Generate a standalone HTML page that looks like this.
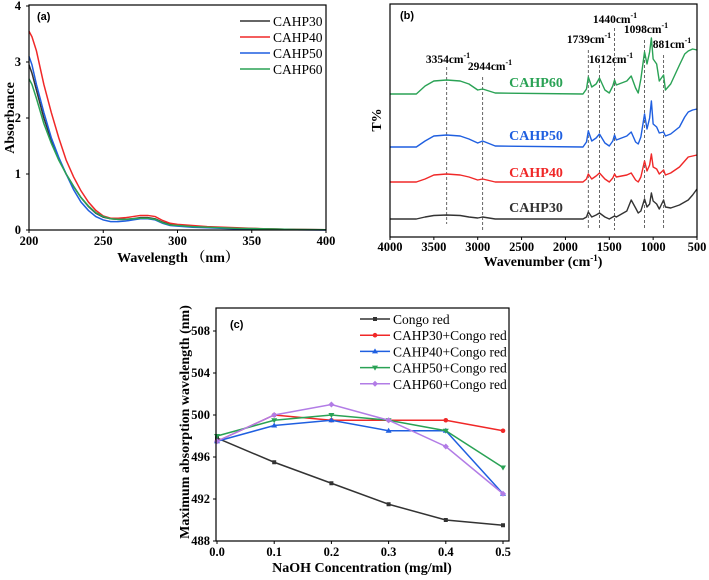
<!DOCTYPE html>
<html><head><meta charset="utf-8"><style>
html,body{margin:0;padding:0;background:#fff;}
svg{display:block;font-family:"Liberation Serif","Noto Serif CJK SC",serif;}
</style></head><body>
<svg id="fig" width="709" height="580" viewBox="0 0 709 580" xmlns="http://www.w3.org/2000/svg"></svg>
<script>
// ---------- Panel (a) data ----------
const uvWavelengths = [200,202,205,210,215,220,225,230,235,240,245,250,255,260,265,270,275,280,285,290,295,300,310,320,340,360,380,400];
const uvCAHP30 = [2.95,2.8,2.5,2.0,1.6,1.28,1.0,0.78,0.58,0.42,0.3,0.23,0.2,0.19,0.19,0.2,0.22,0.22,0.2,0.14,0.1,0.09,0.07,0.05,0.03,0.02,0.01,0.005];
const uvCAHP40 = [3.55,3.45,3.2,2.6,2.1,1.65,1.25,0.95,0.7,0.5,0.35,0.25,0.21,0.21,0.22,0.24,0.26,0.26,0.24,0.17,0.12,0.1,0.08,0.06,0.04,0.02,0.01,0.005];
const uvCAHP50 = [3.1,2.95,2.6,2.1,1.65,1.3,1.0,0.72,0.5,0.35,0.24,0.18,0.15,0.15,0.16,0.18,0.2,0.2,0.18,0.12,0.08,0.07,0.05,0.04,0.02,0.01,0.005,0];
const uvCAHP60 = [2.7,2.6,2.35,1.9,1.55,1.25,1.0,0.78,0.58,0.43,0.31,0.24,0.2,0.19,0.19,0.2,0.21,0.21,0.19,0.13,0.09,0.08,0.06,0.05,0.03,0.02,0.01,0.005];
const uvXTicks = [200,250,300,350,400];
const uvYTicks = [0,1,2,3,4];

// ---------- Panel (b) data (wavenumber, relative transmittance) ----------
const irWavenumbers = [4000,3700,3600,3500,3354,3200,3100,3000,2944,2800,1800,1760,1739,1700,1650,1612,1550,1500,1460,1440,1420,1300,1250,1200,1170,1140,1098,1070,1040,1020,1000,960,930,881,860,800,700,640,600,550,500];
const irCAHP30 = [18,18,20,21.5,22,21.5,20,19,20,18,18,20,25,20,22,24,20,18,20,21,20,26,37,29,24,26,38,30,33,44,36,33,28,37,30,29,32,35,37,42,48];
const irCAHP40 = [55,55,58,62,63,62,60,57,58,55,55,58,63,58,61,64,58,55,59,63,60,62,64,57,55,60,76,66,72,83,70,68,63,67,62,64,70,76,80,81,82];
const irCAHP50 = [90,90,96,101,102,101,98,94,96,91,90,95,106,96,99,103,94,91,96,102,97,101,105,95,93,100,123,108,119,136,113,110,104,105,101,103,110,120,125,127,128];
const irCAHP60 = [143,143,151,156,157,156,153,147,148,144,143,148,160,150,153,159,147,144,151,157,152,156,161,149,144,158,185,173,185,199,178,173,156,162,147,153,172,183,186,188,187];
const irMarks = [3354,2944,1739,1612,1440,1098,881];
const irXTicks = [4000,3500,3000,2500,2000,1500,1000,500];

// ---------- Panel (c) data ----------
const naohConc = [0.0,0.1,0.2,0.3,0.4,0.5];
const congoRed = [497.8,495.5,493.5,491.5,490.0,489.5];
const cahp30Congo = [497.5,500,499.5,499.5,499.5,498.5];
const cahp40Congo = [497.5,499,499.5,498.5,498.5,492.5];
const cahp50Congo = [498,499.5,500,499.5,498.5,495];
const cahp60Congo = [497.5,500,501,499.5,497,492.5];
const cXTicks = [0.0,0.1,0.2,0.3,0.4,0.5];
const cYTicks = [488,492,496,500,504,508];

const NS="http://www.w3.org/2000/svg";
const svg=document.getElementById('fig');
function mk(tag,attrs,parent){const e=document.createElementNS(NS,tag);for(const k in attrs)e.setAttribute(k,attrs[k]);(parent||svg).appendChild(e);return e;}
function txt(s,attrs,parent){const e=mk('text',attrs,parent);e.textContent=s;return e;}
const C={k:'#333333',r:'#f02828',b:'#1f5fe0',g:'#2aa255',p:'#b27ce6'};

// ===== Panel A =====
(function(){
 const g=mk('g',{});
 
 
 const L=29,R=326,T=6,B=230;
 const x=v=>L+(v-200)/200*(R-L), y=v=>B-v/4*(B-T);
 const ser=[['CAHP30',uvCAHP30,C.k],['CAHP40',uvCAHP40,C.r],['CAHP50',uvCAHP50,C.b],['CAHP60',uvCAHP60,C.g]];
 ser.forEach(([n,d,c])=>{const p=mk('polyline',{points:uvWavelengths.map((w,i)=>x(w)+','+y(d[i])).join(' '),fill:'none',stroke:c,'stroke-width':1.5},g);
  
  });
 mk('rect',{x:L,y:T-1,width:R-L,height:B-T+1,fill:'none',stroke:'#000','stroke-width':1.2},g);
 uvXTicks.forEach(v=>{mk('line',{x1:x(v),x2:x(v),y1:B,y2:B+3,stroke:'#000'},g);
  const t=txt(v,{x:x(v),y:B+15,'text-anchor':'middle','font-size':12.5,'font-weight':'bold'},g);
  
  });
 uvYTicks.forEach(v=>{mk('line',{x1:L-3,x2:L,y1:y(v),y2:y(v),stroke:'#000'},g);
  const t=txt(v,{x:L-8,y:y(v)+4,'text-anchor':'end','font-size':12.5,'font-weight':'bold'},g);
  
  });
 const tl=txt('(a)',{x:37,y:20,'font-size':11,'font-weight':'bold','font-family':'Liberation Sans'},g);
 
 const xt=txt('Wavelength （nm）',{x:178,y:262,'text-anchor':'middle','font-size':14,'font-weight':'bold'},g);
 
 const yt=txt('Absorbance',{x:0,y:0,'text-anchor':'middle','font-size':14,'font-weight':'bold',transform:'translate(14,118) rotate(-90)'},g);
 
 ser.forEach(([n,d,c],i)=>{const yy=21+i*16;
  const le=mk('g',{},g);
  
  mk('line',{x1:240,x2:270,y1:yy,y2:yy,stroke:c,'stroke-width':1.6},le);
  txt(n,{x:273,y:yy+5,'font-size':13.5},le);});
})();

// ===== Panel B =====
(function(){
 const g=mk('g',{});
 
 
 const L=390,R=697,T=4,B=237;
 const x=v=>L+(4000-v)/3500*(R-L), y=v=>B-v;
 const ser=[['CAHP30',irCAHP30,C.k,207],['CAHP40',irCAHP40,C.r,172],['CAHP50',irCAHP50,C.b,135],['CAHP60',irCAHP60,C.g,82]];
 const tops=[67,77,50,65,28,40,55], bots=[224,230,230,230,230,230,230];
 const lx=[448,490,589,611,615,646,672], ly=[63,70,43,63,23,33,48];
 irMarks.forEach((m,i)=>{const l=mk('line',{x1:x(m),x2:x(m),y1:tops[i],y2:bots[i],stroke:'#555','stroke-width':0.9,'stroke-dasharray':'3,2'},g);
  
  const t=mk('text',{x:lx[i],y:ly[i],'text-anchor':'middle','font-size':11.5,'font-weight':'bold'},g);
  
  t.textContent=m+'cm';const s=mk('tspan',{dy:-5,'font-size':8},t);s.textContent='-1';});
 ser.forEach(([n,d,c,ty])=>{const p=mk('polyline',{points:irWavenumbers.map((w,i)=>x(w)+','+y(d[i])).join(' '),fill:'none',stroke:c,'stroke-width':1.4,'stroke-linejoin':'round'},g);
  
  const t=txt(n,{x:536,y:ty+5,'text-anchor':'middle','font-size':14,'font-weight':'bold',fill:c},g);
  });
 mk('rect',{x:L,y:T,width:R-L,height:B-T,fill:'none',stroke:'#000','stroke-width':1.2},g);
 irXTicks.forEach(v=>{mk('line',{x1:x(v),x2:x(v),y1:B,y2:B+3,stroke:'#000'},g);
  const t=txt(v,{x:x(v),y:B+14,'text-anchor':'middle','font-size':12.5,'font-weight':'bold'},g);
  });
 const tl=txt('(b)',{x:400,y:19,'font-size':11,'font-weight':'bold','font-family':'Liberation Sans'},g);
 
 const xt=mk('text',{x:543,y:266,'text-anchor':'middle','font-size':14,'font-weight':'bold'},g);
 
 xt.textContent='Wavenumber (cm';const s=mk('tspan',{dy:-5,'font-size':9},xt);s.textContent='-1';const s2=mk('tspan',{dy:5},xt);s2.textContent=')';
 const yt=txt('T%',{x:0,y:0,'text-anchor':'middle','font-size':14,'font-weight':'bold',transform:'translate(381,120) rotate(-90)'},g);
 
})();

// ===== Panel C =====
(function(){
 const g=mk('g',{});
 
 
 const L=216,R=509,T=308,B=541, X0=217,X1=503;
 const x=v=>X0+v/0.5*(X1-X0), y=v=>B-(v-488)/20*(B-331);
 const ser=[['Congo red',congoRed,C.k,'sq'],['CAHP30+Congo red',cahp30Congo,C.r,'ci'],['CAHP40+Congo red',cahp40Congo,C.b,'up'],['CAHP50+Congo red',cahp50Congo,C.g,'dn'],['CAHP60+Congo red',cahp60Congo,C.p,'st']];
 function marker(px,py,c,t,par){
  if(t==='sq')return mk('rect',{x:px-2,y:py-2,width:4,height:4,fill:c},par);
  if(t==='ci')return mk('circle',{cx:px,cy:py,r:2.3,fill:c},par);
  if(t==='up')return mk('polygon',{points:`${px},${py-3} ${px-3},${py+2} ${px+3},${py+2}`,fill:c},par);
  if(t==='dn')return mk('polygon',{points:`${px},${py+3} ${px-3},${py-2} ${px+3},${py-2}`,fill:c},par);
  return mk('polygon',{points:`${px},${py-3} ${px+3},${py} ${px},${py+3} ${px-3},${py}`,fill:c},par);
 }
 ser.forEach(([n,d,c,m])=>{const sg=mk('g',{},g);
  
  
  mk('polyline',{points:naohConc.map((v,i)=>x(v)+','+y(d[i])).join(' '),fill:'none',stroke:c,'stroke-width':1.5},sg);
  naohConc.forEach((v,i)=>{const mm=marker(x(v),y(d[i]),c,m,sg);
   });});
 mk('rect',{x:L,y:T,width:R-L,height:B-T,fill:'none',stroke:'#000','stroke-width':1.2},g);
 cXTicks.forEach(v=>{mk('line',{x1:x(v),x2:x(v),y1:B,y2:B+3,stroke:'#000'},g);
  const t=txt(v.toFixed(1),{x:x(v),y:B+15,'text-anchor':'middle','font-size':12.5,'font-weight':'bold'},g);
  });
 cYTicks.forEach(v=>{mk('line',{x1:L-3,x2:L,y1:y(v),y2:y(v),stroke:'#000'},g);
  const t=txt(v,{x:L-6,y:y(v)+4,'text-anchor':'end','font-size':12.5,'font-weight':'bold'},g);
  });
 const tl=txt('(c)',{x:230,y:328,'font-size':11,'font-weight':'bold','font-family':'Liberation Sans'},g);
 
 const xt=txt('NaOH Concentration (mg/ml)',{x:362,y:572,'text-anchor':'middle','font-size':14,'font-weight':'bold'},g);
 
 const yt=txt('Maximum absorption wavelength (nm)',{x:0,y:0,'text-anchor':'middle','font-size':14,'font-weight':'bold',transform:'translate(189,422) rotate(-90)'},g);
 
 ser.forEach(([n,d,c,m],i)=>{const yy=319+i*16.2;
  const le=mk('g',{},g);
  
  mk('line',{x1:360,x2:390,y1:yy,y2:yy,stroke:c,'stroke-width':1.5},le);
  marker(375,yy,c,m,le);
  txt(n,{x:393,y:yy+5,'font-size':13.5},le);});
})();
</script>
</body></html>
